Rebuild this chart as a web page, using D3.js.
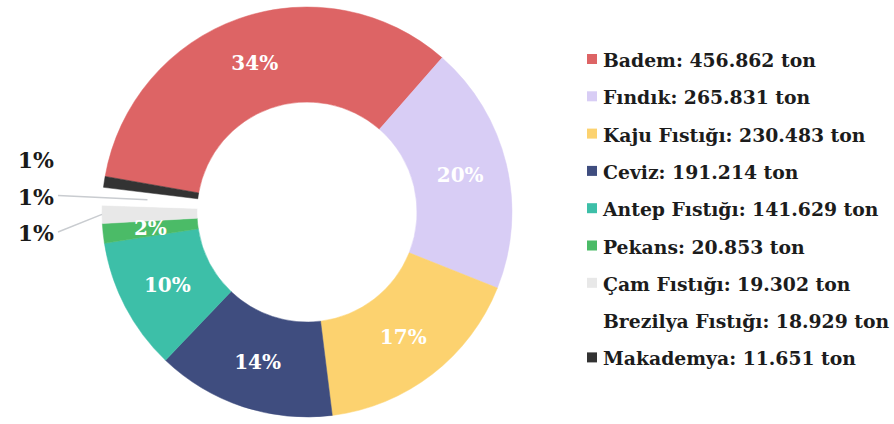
<!DOCTYPE html>
<html>
<head>
<meta charset="utf-8">
<script src="https://cdn.jsdelivr.net/npm/d3@7"></script>
<style>
  html, body { margin: 0; padding: 0; background: #ffffff; }
  svg { display: block; }
  svg text { font-family: "DejaVu Serif", serif; font-weight: bold; }
</style>
</head>
<body>
<svg id="chart" width="894" height="424"></svg>
<script>
const categories = ["Badem", "Fındık", "Kaju Fıstığı", "Ceviz", "Antep Fıstığı", "Pekans", "Çam Fıstığı", "Brezilya Fıstığı", "Makademya"];
const values = [456862, 265831, 230483, 191214, 141629, 20853, 19302, 18929, 11651];
const valueLabels = ["456.862", "265.831", "230.483", "191.214", "141.629", "20.853", "19.302", "18.929", "11.651"];
const colors = ["#dd6465", "#d8cdf5", "#fcd26f", "#3f4d7f", "#3dbfa8", "#4bbb67", "#e8e8e8", "#ffffff", "#333333"];
const unit = "ton";
// small slices labelled outside, top to bottom
const outsideOrder = ["Makademya", "Brezilya Fıstığı", "Çam Fıstığı"];

const svg = d3.select("#chart");
const cx = 307, cy = 212, outerR = 205, innerR = 110;
const total = d3.sum(values);
const startA = -80 * Math.PI / 180;

const pie = d3.pie().sort(null).value(d => d.value)
  .startAngle(startA).endAngle(startA + 2 * Math.PI);
const data = categories.map((c, i) => ({ name: c, value: values[i], color: colors[i], label: valueLabels[i] }));
const arcs = pie(data);
const arc = d3.arc().innerRadius(innerR).outerRadius(outerR);
const midArc = d3.arc().innerRadius((innerR + outerR) / 2).outerRadius((innerR + outerR) / 2);

const g = svg.append("g").attr("transform", `translate(${cx},${cy})`);
g.selectAll("path.slice").data(arcs).join("path")
  .attr("class", "slice")
  .attr("d", arc)
  .attr("fill", d => d.data.color)
  .attr("stroke", d => d.data.color)
  .attr("stroke-width", 0.5);

const pct = v => Math.round(v / total * 100) + "%";

// inside labels
g.selectAll("text.inlab").data(arcs.filter(a => a.data.value / total >= 0.015)).join("text")
  .attr("class", "inlab")
  .attr("x", d => midArc.centroid(d)[0])
  .attr("y", d => midArc.centroid(d)[1])
  .attr("text-anchor", "middle")
  .attr("dominant-baseline", "central")
  .attr("fill", "#ffffff")
  .attr("font-size", 20)
  .text(d => pct(d.data.value));

// outside labels
const outLabX = 54;
const outY0 = 168, outDY = 36.5;
outsideOrder.forEach((name, i) => {
  const a = arcs.find(d => d.data.name === name);
  const y = outY0 + i * outDY;
  svg.append("text")
    .attr("x", outLabX).attr("y", y)
    .attr("text-anchor", "end")
    .attr("fill", "#1a1a1a")
    .attr("font-size", 22)
    .text(pct(a.data.value));
  if (i > 0) {
    const mid = (a.startAngle + a.endAngle) / 2;
    const rr = i === 1 ? outerR - 45 : outerR;
    const ex = cx + rr * Math.sin(mid), ey = cy - rr * Math.cos(mid);
    svg.append("line")
      .attr("x1", outLabX + 4).attr("y1", y - 9)
      .attr("x2", ex).attr("y2", ey)
      .attr("stroke", "#c9ccd0").attr("stroke-width", 1.5);
  }
});

// legend
const legX = 587, legY0 = 67, legDY = 37.3;
const leg = svg.append("g");
data.forEach((d, i) => {
  const y = legY0 + i * legDY;
  leg.append("rect")
    .attr("x", legX).attr("y", y - 13)
    .attr("width", 10).attr("height", 10)
    .attr("fill", d.color);
  leg.append("text")
    .attr("x", legX + 16).attr("y", y)
    .attr("fill", "#1c1c1c")
    .attr("font-size", 18.8)
    .text(`${d.name}: ${d.label} ${unit}`);
});
</script>
</body>
</html>
